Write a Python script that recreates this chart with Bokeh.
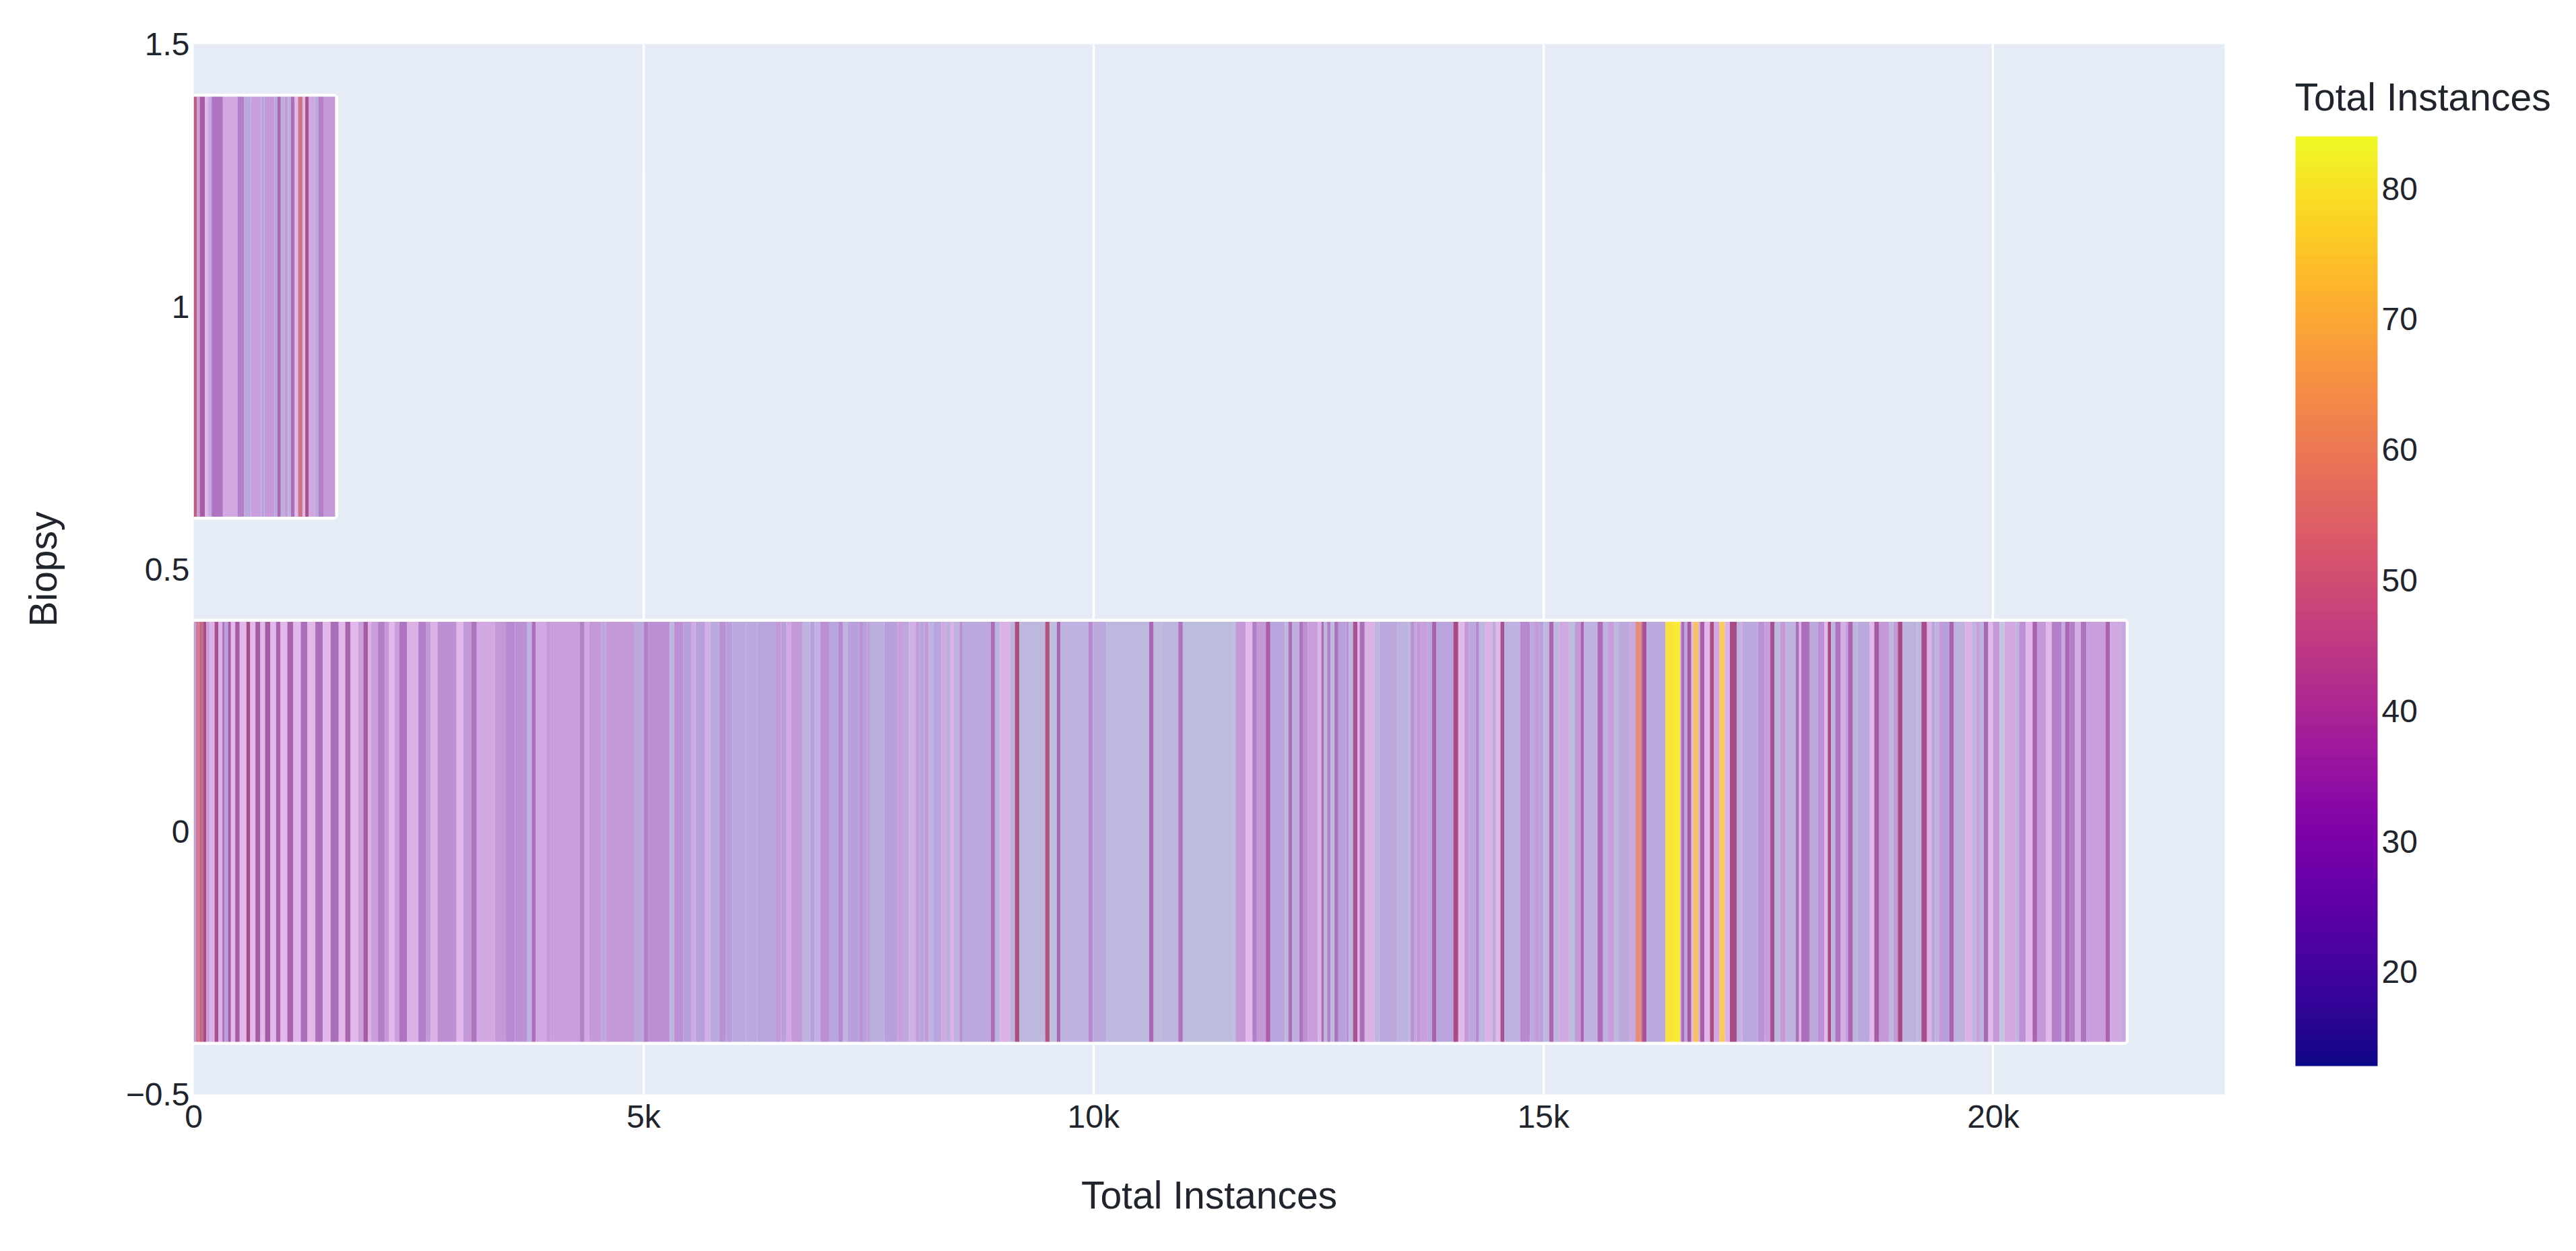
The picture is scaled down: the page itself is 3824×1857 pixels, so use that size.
import numpy as np
from bokeh.plotting import figure
from bokeh.embed import file_html
from bokeh.resources import INLINE
from bokeh.models import ColumnDataSource, LinearColorMapper, ColorBar, FixedTicker, Label
from bokeh.palettes import Plasma256

# Stripe readings: (run length, Total Instances colour value), left to right.
INSTANCES_PER_RUN_UNIT = 2.495

biopsy_1_runs = [(15,50),(12,32),(23,42),(15,29),(15,27),(50,37),(65,31),(30,36),(30,24),(45,32),(15,25),(45,33),
    (13,24),(15,39),(17,23),(15,33),(13,22),(17,38),(15,29),(20,54),(12,29),(16,44),(27,31),(15,24),(25,36),(50,33)]

biopsy_0_runs_a = [(10,26),(14,55),(19,52),(13,46),(16,32),(21,30),(17,44),(18,30),(10,38),(15,26),(13,42),(19,29),
    (20,42),(30,29),(17,46),(23,29),(22,42),(21,29),(24,42),(25,29),(20,40),(30,29),(27,40),(33,29),(30,38),(35,29),
    (33,38),(35,29),(36,38),(29,29),(24,40),(34,29),(23,32),(20,42),(15,30),(30,32),(30,36),(20,33),(25,29),(20,32),
    (35,37),(50,30),(35,36),(20,33),(30,30),(85,34),(30,29),(35,33),(25,37),(80,31),(50,33),(40,35)]
biopsy_0_runs_b = [(55,34),(20,22),(17,38),(48,31),(20,33),(130,32),(20,36),(20,31),(55,33),(20,24),(125,33),(45,24),
    (20,36),(95,34),(20,21),(40,34),(35,26),(20,31),(40,26),(25,28),(40,24),(30,34),(30,26),(60,24),(50,24),(80,25),
    (25,33),(25,26),(20,31),(50,33),(35,22),(20,26),(25,22),(40,34),(40,25)]
biopsy_0_runs_c = [(22,35),(22,21),(50,26),(16,34),(20,26),(10,33),(65,23),(60,26),(25,32),(25,24),(30,28),(15,33),
    (25,25),(18,33),(22,22),(35,25),(20,31),(20,23),(15,30),(25,22),(15,34),(125,24),(18,38),(22,21),(45,30),(22,22),
    (20,47),(115,20),(20,48),(32,17),(16,39),(125,22),(20,35),(60,24),(190,20),(20,39),(35,19)]
biopsy_0_runs_d = [(75,21),(20,37),(225,18),(10,17),(45,33),(30,29),(20,36),(40,33),(20,41),(65,25),(15,20),(17,38),
    (32,23),(18,37),(20,34),(45,32),(15,30),(12,38),(14,20),(16,36),(16,18),(18,37),(35,26),(12,34),(18,20),(20,44),
    (10,29),(22,38),(45,30),(20,21),(80,24),(50,22),(10,19),(15,34),(10,25),(20,33),(30,32),(20,24),(20,40),(75,25),
    (22,46),(28,29),(20,33),(30,24),(15,35),(25,20)]
biopsy_0_runs_e = [(35,30),(15,24),(20,29),(17,44),(70,22),(45,35),(20,24),(20,33),(20,26),(25,20),(20,39),(25,20),
    (45,31),(25,18),(25,33),(15,40),(60,22),(25,38),(22,22),(28,32),(20,20),(50,24),(25,27),(22,60),(8,55),(18,44),
    (85,24),(35,80),(30,84),(5,30),(15,38),(12,24),(18,42),(8,29),(25,70),(7,31),(18,41),(25,29),(17,47),(25,31),
    (25,72),(22,30),(30,46),(15,22),(10,28),(70,24),(30,34),(25,32),(18,44),(25,20),(25,33),(45,22),(15,38),(10,30),(30,38)]
biopsy_0_runs_f = [(8,37),(35,24),(30,34),(15,29),(15,46),(18,21),(25,37),(20,28),(12,32),(22,39),(20,21),(55,24),
    (20,29),(22,42),(45,33),(18,20),(20,33),(20,46),(65,22),(20,19),(25,45),(20,30),(15,25),(20,22),(18,33),(27,26),
    (20,40),(50,22),(30,30),(20,21),(15,32),(18,22),(20,39),(20,29),(30,33),(22,15),(50,31),(15,21),(30,34),(30,29),
    (20,40),(40,33),(25,29),(45,36),(15,27),(20,39),(25,36),(25,28),(25,37),(85,32),(20,40),(50,31),(20,27)]

x_ticks = [0, 5000, 10000, 15000, 20000]
x_labels = ["0", "5k", "10k", "15k", "20k"]
y_ticks = [-0.5, 0, 0.5, 1, 1.5]
y_labels = ["\u22120.5", "0", "0.5", "1", "1.5"]
colorbar_ticks = [20, 30, 40, 50, 60, 70, 80]
value_low, value_high = 12.8, 84.0
x_max = 22572
bar_thickness = 0.8

# The bars' thin segments are washed out by their white outlines; this is that washed-out look.
stop_values = [13, 18, 22, 26, 29, 32, 35, 38, 42, 46, 50, 55, 60, 66, 72, 78, 84]
stop_colors = ["#c6c8e6", "#bcbcdc", "#bdb2e0", "#b8a0dc", "#e2b8ea", "#c8a0dc", "#b688d0", "#ac6cb8", "#a85aa4",
               "#a84a84", "#c05c80", "#d27a8c", "#e88c74", "#f4b070", "#fcc860", "#fadc40", "#f8ec30"]

def rgb(c):
    return [int(c[i:i+2], 16) for i in (1, 3, 5)]

grid_v = np.linspace(value_low, value_high, 256)
stops = np.array([rgb(c) for c in stop_colors], dtype=float)
washed = ["#%02x%02x%02x" % tuple(int(round(np.interp(v, stop_values, stops[:, k]))) for k in range(3)) for v in grid_v]
wash_mapper = LinearColorMapper(palette=washed, low=value_low, high=value_high)
plasma_mapper = LinearColorMapper(palette=list(Plasma256), low=value_low, high=value_high)

def stripes(runs, y):
    w = np.array([r[0] for r in runs], dtype=float) * INSTANCES_PER_RUN_UNIT
    right = np.cumsum(w)
    return dict(y=[y] * len(runs), left=right - w, right=right, value=[r[1] for r in runs])

runs_0 = biopsy_0_runs_a + biopsy_0_runs_b + biopsy_0_runs_c + biopsy_0_runs_d + biopsy_0_runs_e + biopsy_0_runs_f
data_0, data_1 = stripes(runs_0, 0), stripes(biopsy_1_runs, 1)

FONT = "Liberation Sans"
INK = "#20242c"

p = figure(width=3808, height=1841, x_range=(0, x_max), y_range=(-0.5, 1.5), output_backend="svg",
           toolbar_location=None, border_fill_color="#ffffff",
           frame_width=3015, frame_height=1559, min_border_left=287, min_border_top=65,
           min_border_right=506, min_border_bottom=217)
p.background_fill_color = "#e5ecf6"
p.outline_line_color = None

halo = ColumnDataSource(dict(y=[0, 1], right=[data_0["right"][-1], data_1["right"][-1]]))
p.hbar(y="y", left=0, right="right", height=bar_thickness, source=halo, fill_color=None,
       line_color="#ffffff", line_width=9)
for d in (data_0, data_1):
    p.hbar(y="y", left="left", right="right", height=bar_thickness, source=ColumnDataSource(d),
           fill_color={"field": "value", "transform": wash_mapper}, line_color=None)

p.xaxis.ticker = FixedTicker(ticks=x_ticks)
p.xaxis.major_label_overrides = dict(zip(x_ticks, x_labels))
p.yaxis.ticker = FixedTicker(ticks=y_ticks)
p.yaxis.major_label_overrides = dict(zip(y_ticks, y_labels))
for ax in (p.xaxis[0], p.yaxis[0]):
    ax.axis_line_color = None
    ax.major_tick_line_color = None
    ax.minor_tick_line_color = None
    ax.major_label_text_font = FONT
    ax.major_label_text_font_size = "48px"
    ax.major_label_text_color = INK
    ax.axis_label_text_font = FONT
    ax.axis_label_text_font_size = "57px"
    ax.axis_label_text_font_style = "normal"
    ax.axis_label_text_color = INK
p.xaxis.axis_label = "Total Instances"
p.yaxis.axis_label = "Biopsy"
p.xaxis.major_label_standoff = 0
p.yaxis.major_label_standoff = 0
p.xaxis.axis_label_standoff = 55
p.yaxis.axis_label_standoff = 88
p.yaxis.major_label_orientation = "horizontal"
p.xgrid.grid_line_color = "#ffffff"
p.xgrid.grid_line_width = 3.5
p.ygrid.grid_line_color = None

cb = ColorBar(color_mapper=plasma_mapper, ticker=FixedTicker(ticks=colorbar_ticks), width=122, height=1380,
              location=(105, 42), padding=0, margin=0,
              major_label_text_font=FONT, major_label_text_font_size="48px", major_label_text_color=INK,
              major_tick_line_color=None, minor_tick_line_color=None, bar_line_color=None,
              border_line_color=None, background_fill_color=None, label_standoff=6)
p.add_layout(cb, "right")

p.add_layout(Label(x=3406, y=143, x_units="canvas", y_units="canvas", text="Total Instances", text_font=FONT,
                   text_font_size="57px", text_color=INK, text_baseline="middle", text_align="left"), "right")

open("out.html", "w").write(file_html(p, INLINE))
